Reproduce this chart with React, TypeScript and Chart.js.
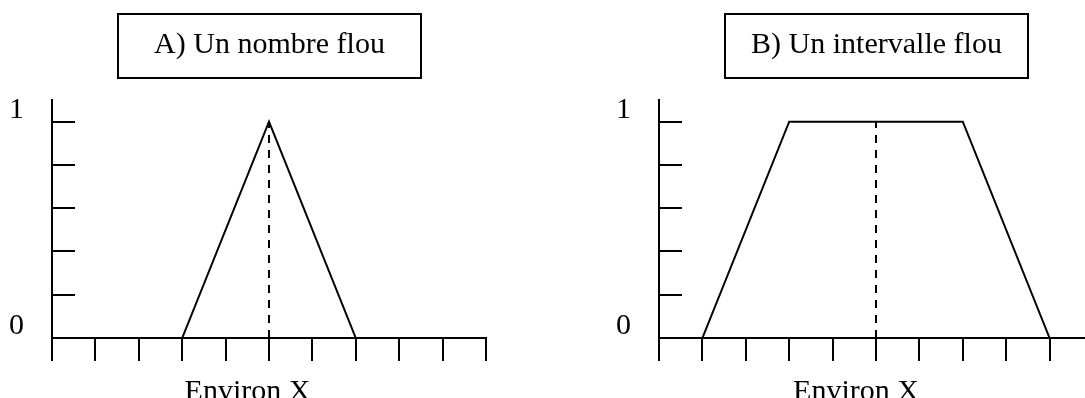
import React, { useEffect, useRef } from "react";
import { Chart, registerables } from "chart.js";

Chart.register(...registerables);

// ---- data ----
const xTickValues = [0, 1, 2, 3, 4, 5, 6, 7, 8, 9, 10];
const yTickValues = [0, 0.2, 0.4, 0.6, 0.8, 1];
const yLabelValues = [0, 1];
const triangleX = [3, 5, 7];
const triangleY = [0, 1, 0];
const trapezoidX = [1, 3, 7, 9];
const trapezoidY = [0, 1, 1, 0];
const centreX = [5, 5];
const centreY = [0, 1];
const panelTitles = ["A) Un nombre flou", "B) Un intervalle flou"];
const axisTitle = "Environ X";

const SERIF = '"Liberation Serif", "Times New Roman", serif';

function toPoints(xs: number[], ys: number[]) {
  return xs.map((x, i) => ({ x, y: ys[i] }));
}

function makeConfig(xs: number[], ys: number[]): any {
  return {
    type: "line",
    data: {
      datasets: [
        {
          data: toPoints(xs, ys),
          borderColor: "#000",
          borderWidth: 2,
          pointRadius: 0,
          tension: 0,
          fill: false,
        },
        {
          data: toPoints(centreX, centreY),
          borderColor: "#000",
          borderWidth: 2,
          borderDash: [8, 7],
          pointRadius: 0,
          tension: 0,
          fill: false,
        },
      ],
    },
    options: {
      responsive: false,
      animation: false,
      devicePixelRatio: 1,
      layout: { padding: { top: 100, right: 54, left: 0, bottom: 0 } },
      plugins: { legend: { display: false }, tooltip: { enabled: false }, title: { display: false } },
      scales: {
        x: {
          type: "linear",
          min: 0,
          max: 10,
          afterBuildTicks: (s: any) => {
            s.ticks = xTickValues.map((v) => ({ value: v }));
          },
          afterFit: (s: any) => {
            s.height = 60;
            s.paddingLeft = 0;
            s.paddingRight = 0;
          },
          grid: { drawOnChartArea: false, drawTicks: true, tickLength: 23, color: "#000", lineWidth: 2 },
          border: { display: true, color: "#000", width: 2 },
          ticks: { display: false },
        },
        y: {
          type: "linear",
          min: 0,
          max: 1.1,
          afterBuildTicks: (s: any) => {
            s.ticks = yTickValues.map((v) => ({ value: v }));
          },
          afterFit: (s: any) => {
            s.width = 52;
            s.paddingTop = 0;
            s.paddingBottom = 0;
          },
          grid: { drawOnChartArea: false, drawTicks: true, tickLength: -23, color: "#000", lineWidth: 2 },
          border: { display: true, color: "#000", width: 2 },
          ticks: {
            padding: 51,
            labelOffset: -12,
            color: "#000",
            autoSkip: false,
            font: { family: SERIF, size: 30 },
            callback: (v: number) => (yLabelValues.includes(v) ? String(v) : ""),
          },
        },
      },
    },
  };
}

function Panel(props: { left: number; xs: number[]; ys: number[] }) {
  const ref = useRef<HTMLCanvasElement | null>(null);
  useEffect(() => {
    if (!ref.current) return;
    const chart = new Chart(ref.current, makeConfig(props.xs, props.ys));
    return () => chart.destroy();
  }, []);
  return (
    <div style={{ position: "absolute", left: props.left, top: 0, width: 540, height: 398 }}>
      <canvas ref={ref} width={540} height={398} style={{ width: 540, height: 398, display: "block" }} />
    </div>
  );
}

function TitleBox(props: { left: number; text: string }) {
  return (
    <div
      style={{
        position: "absolute",
        left: props.left,
        top: 13,
        width: 305,
        height: 66,
        boxSizing: "border-box",
        border: "2px solid #000",
        paddingTop: 13,
        textAlign: "center",
        fontFamily: SERIF,
        fontSize: 30,
        lineHeight: "30px",
        color: "#000",
        whiteSpace: "nowrap",
      }}
    >
      {props.text}
    </div>
  );
}

function AxisLabel(props: { centre: number; text: string }) {
  return (
    <div
      style={{
        position: "absolute",
        left: props.centre - 100,
        top: 375,
        width: 200,
        textAlign: "center",
        fontFamily: SERIF,
        fontSize: 30,
        lineHeight: "30px",
        color: "#000",
        whiteSpace: "nowrap",
      }}
    >
      {props.text}
    </div>
  );
}

export default function App() {
  return (
    <div
      style={{
        position: "absolute",
        left: 0,
        top: 0,
        width: 1085,
        height: 398,
        overflow: "hidden",
        background: "#fff",
      }}
    >
      <Panel left={0} xs={triangleX} ys={triangleY} />
      <Panel left={607} xs={trapezoidX} ys={trapezoidY} />
      <TitleBox left={117} text={panelTitles[0]} />
      <TitleBox left={724} text={panelTitles[1]} />
      <AxisLabel centre={247.5} text={axisTitle} />
      <AxisLabel centre={856} text={axisTitle} />
    </div>
  );
}
